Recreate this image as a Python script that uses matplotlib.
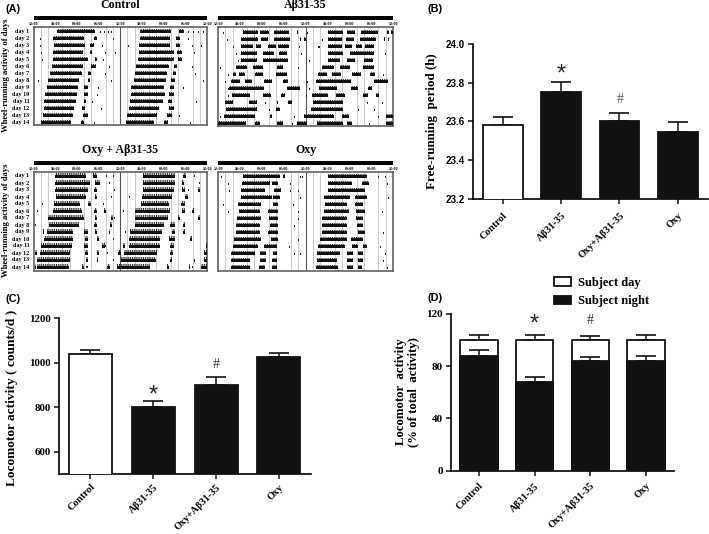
import matplotlib
matplotlib.use("Agg")
import matplotlib.pyplot as plt
from matplotlib.patches import Rectangle

plt.rcParams["hatch.linewidth"] = 0.7

W, H = 709, 534
SERIF = "Liberation Serif"
SANS = "Liberation Sans"
INK = "#111111"

groups = ["Control", "Aβ31-35", "Oxy+Aβ31-35", "Oxy"]
days = [f"day {i}" for i in range(1, 15)]
clock = ["12:00", "18:00", "00:00", "06:00", "12:00", "18:00", "00:00", "06:00", "12:00"]

period = [23.58, 23.75, 23.60, 23.545]
period_top = [23.62, 23.805, 23.645, 23.595]
locomotor = [1038, 800, 900, 1025]
locomotor_top = [1056, 826, 934, 1044]
night_pct = [88, 68, 84, 84]
night_top = [92, 72, 87, 88]
total_pct = [100, 100, 100, 100]
total_top = [104, 104, 103, 104]

# activity bouts per day, hours after the first 12:00 of the double plot
control_bouts = [
    [(6.5, 17), (29.4, 38), (40.2, 41.5)],
    [(5.5, 14), (16.6, 17.5), (29.5, 37.7), (39.4, 40.6)],
    [(5.7, 14.3), (15.7, 16.6), (29.3, 37.9), (39.4, 40.6)],
    [(5.5, 13.8), (15.7, 16.3), (29.1, 39), (39.7, 41.1)],
    [(5.4, 15.2), (17, 17.5), (28.8, 38.8), (39.9, 41.1)],
    [(5, 13.7), (15.9, 17.4), (28.4, 37.4), (38.8, 39.7)],
    [(4.6, 13.4), (15.1, 15.9), (28.2, 36.9), (38.6, 39.5)],
    [(4, 12.5), (15, 15.7), (27.7, 36.7), (38, 39.2)],
    [(3.7, 12.2), (13.9, 15.2), (27.1, 36), (37.7, 38.8)],
    [(3.3, 12), (13.9, 15), (27, 36.5), (37.4, 38.8)],
    [(3, 11.8), (13.9, 14.4), (26.8, 35.7), (37.2, 38.3)],
    [(2.8, 11.3), (13.4, 14.3), (26.3, 34.6), (37.4, 39)],
    [(2.5, 10.9), (13.7, 15), (26, 34.2), (36.8, 38.3)],
    [(2.2, 10.3), (13.1, 14), (25.7, 33.2), (36, 37.2)],
]
abeta_bouts = [
    [(6.9, 11), (11.5, 13.9), (15.4, 19.4), (21.6, 22), (30.1, 34.4), (35.3, 37.6), (39.2, 43.8), (46.3, 46.8), (47.5, 47.9)],
    [(6.2, 11), (11.7, 13.6), (15.4, 19.7), (22.5, 22.9), (23.7, 24), (30.1, 34.1), (35.1, 37.2), (39, 43.3), (45.4, 45.9), (46.5, 47)],
    [(6.2, 9.6), (10.3, 11.9), (13.8, 15.8), (16.5, 19.4), (30.1, 33.9), (34.9, 36.7), (37.8, 39.6), (40.4, 42.9)],
    [(6.2, 10.8), (12.4, 15.4), (16.7, 18.8), (30.1, 34.4), (36.2, 42.9)],
    [(6.2, 10.6), (12.4, 19.3), (30.1, 33.5), (35.3, 37.6), (40.1, 42.4)],
    [(4.8, 8), (9.6, 12.4), (16.2, 17.9), (28.6, 31.9), (33.5, 36.1), (39.7, 42.7)],
    [(4.1, 5), (5.7, 7.3), (10.1, 12.4), (15.8, 18.8), (27.5, 29.8), (31.2, 33.8), (36.7, 39.3), (41.7, 43.1)],
    [(3.7, 6), (7.3, 9.4), (12.7, 14.7), (17.9, 19.3), (26.8, 36.5), (42.9, 46.5)],
    [(2.9, 12.7), (18.8, 22.5), (27.7, 32.6), (36.5, 38.5), (41.1, 42.2)],
    [(3.9, 8.7), (12.4, 14.5), (17.2, 18.3), (25.7, 30.3), (32.3, 34.9), (39.9, 41.1), (43.3, 44.2)],
    [(1.8, 4.1), (8.5, 10.8), (16.1, 16.5), (19.3, 20.4), (26.1, 34.4)],
    [(2.1, 10.7), (15.8, 17), (25.5, 34.4)],
    [(1.7, 10.1), (14.2, 14.9), (23.7, 31.7), (34.1, 35.8), (46.1, 47.9)],
    [(0, 7.8), (10.1, 11.5), (16.3, 17.9), (21.8, 24.3), (27.1, 34.4), (35.3, 36.7), (46, 48)],
]
oxy_abeta_bouts = [
    [(6, 14.6), (16.4, 17.7), (30.3, 39.2), (41.4, 42.3)],
    [(6, 15.5), (17.1, 18.3), (30.3, 39.2), (41.1, 41.6)],
    [(6, 15.2), (16.6, 17.5), (30.3, 38.8), (41.1, 41.8), (45.4, 46.2)],
    [(6.2, 14.6), (16.9, 17.5), (30, 38.3), (41.8, 42.8)],
    [(5.8, 12.9), (15.2, 15.9), (29.7, 37.4), (40.9, 41.8)],
    [(5.5, 13.4), (16.8, 17.7), (19.6, 20.1), (28.2, 37.9), (41.1, 41.8), (43.9, 44.3)],
    [(4, 13.9), (17.1, 17.7), (21.5, 22), (28.2, 37.1), (39.9, 40.6), (45.4, 46)],
    [(4.2, 12.7), (16.8, 17.5), (21.2, 21.8), (28.2, 36), (37.9, 39.2), (41.4, 41.8)],
    [(2.6, 3), (3.7, 10.9), (13.9, 15.2), (17.1, 17.7), (20.8, 21.2), (26.8, 35.5), (38.3, 39.2), (41.4, 41.8)],
    [(2.8, 10.9), (14.3, 15.2), (17.5, 18), (26.3, 35.1), (37.6, 39.2), (43.2, 43.8)],
    [(2, 10.6), (13.9, 15), (18.9, 19.9), (24.7, 25.4), (26.3, 35.1), (37.9, 39), (47.6, 48)],
    [(0.3, 1.1), (1.8, 10.2), (14.3, 15), (17.5, 18.1), (23.5, 24.2), (25.1, 34.2), (37.9, 38.6), (47.3, 48)],
    [(1.1, 10), (14.6, 15), (17.5, 17.9), (24.2, 34), (37.7, 38.2), (44.3, 44.8), (47.1, 48)],
    [(0.3, 0.8), (1.1, 9.7), (13.4, 13.9), (20.3, 21.2), (23.1, 32.3), (36.9, 37.4), (42.9, 43.4), (46.4, 48)],
]
oxy_bouts = [
    [(6.9, 17), (17.9, 18.5), (30.3, 40.8)],
    [(6.6, 14.2), (14.7, 16.5), (30.3, 36.7), (39.4, 41.3)],
    [(6.4, 12.8), (15.4, 17.4), (30.1, 40.4)],
    [(6.4, 14.7), (15.1, 16.9), (29.2, 36.2), (37.6, 40.8)],
    [(5.5, 11.9), (15.1, 16.5), (29.4, 35.3), (37.6, 39.9)],
    [(5.7, 11.5), (13.8, 16.5), (29.1, 35.8), (37.8, 40.2)],
    [(5.3, 11.9), (14, 16.5), (28.6, 35.3), (37.8, 39.9)],
    [(4.8, 11.5), (14.2, 16.5), (28.6, 35.3), (38.1, 39.9)],
    [(4.8, 11.5), (13.8, 16.5), (28.4, 35.3), (38.3, 40.4)],
    [(4.4, 11.9), (14.5, 16.5), (28, 35.3), (36.5, 39.9)],
    [(4.1, 11), (12.6, 16.1), (27.5, 34.9), (36.7, 38.5), (39.9, 40.8)],
    [(3.7, 10.1), (11.5, 13.3), (15.1, 16.1), (27.1, 33.5), (35.3, 36.9), (38.5, 39.9)],
    [(3.5, 8.7), (11.5, 13.3), (14.7, 16.1), (27.1, 32.6), (35.3, 36.9), (38.5, 39.9)],
    [(3.5, 8.7), (11.2, 12.8), (14.7, 16.1), (26.9, 33), (35.3, 36.9), (38.5, 39.6)],
]

# isolated small activity marks: (day, hour)
control_spots = [(1, 18.5), (1, 19.7), (1, 20.8), (1, 21.7), (1, 43), (1, 44.3), (1, 45.7), (1, 46.9),
                 (2, 2), (2, 22), (2, 43), (3, 2), (3, 19), (3, 26.3), (3, 43.9), (3, 46.6),
                 (4, 2.3), (4, 20), (4, 22.6), (4, 44.5), (5, 2.5), (5, 19.5), (6, 21), (6, 44),
                 (7, 19.8), (7, 44.7), (8, 1.3), (8, 21.5), (8, 47), (9, 18), (9, 41.5), (10, 17.6),
                 (11, 16.4), (11, 45), (12, 18.8), (13, 40.5), (14, 16.8), (14, 43.5)]
abeta_spots = [(1, 1.5), (1, 24.5), (2, 2.5), (2, 28.7), (3, 4.3), (3, 27.7), (3, 22.4), (4, 5.2), (4, 23),
               (4, 46), (5, 5.5), (5, 25), (6, 0.8), (6, 22), (7, 2.8), (7, 45.5), (8, 2), (8, 24.6), (9, 3),
               (9, 25.2), (10, 2.8), (10, 24.3), (11, 13), (11, 41), (11, 45), (12, 14), (12, 38.5), (12, 42.8),
               (13, 0.6), (13, 21), (13, 44), (14, 20.5), (14, 41.5)]
oxy_abeta_spots = [(1, 20.3), (1, 22), (1, 44.5), (2, 21), (2, 46), (3, 22.5), (3, 43), (4, 26.5), (4, 21.5),
                   (5, 2.5), (5, 19.5), (6, 1), (6, 25), (7, 22.5), (8, 0.5), (9, 25.5), (10, 22),
                   (11, 20), (12, 20.5), (13, 22), (14, 14.8), (14, 44)]
oxy_spots = [(1, 1), (1, 22.5), (1, 23.2), (1, 44), (1, 46), (2, 2.8), (2, 20), (2, 46.5), (3, 3.2), (3, 20),
             (3, 22), (4, 22.5), (4, 46.8), (5, 1.5), (5, 20.6), (6, 3), (6, 22), (6, 45), (7, 22), (8, 21),
             (9, 45.5), (10, 22), (11, 19.5), (11, 44.5), (12, 21), (12, 22.5), (12, 46), (13, 45.5), (14, 46.5)]


def place(x0, y0, x1, y1):
    return fig.add_axes([x0 / W, 1 - y1 / H, (x1 - x0) / W, (y1 - y0) / H])


def actogram(box, title, title_y, bouts, spots, row1):
    x0, y0, x1, y1 = box
    ax = place(x0, y0, x1, y1)
    step = 7.0
    ax.set_xlim(0, 48)
    ax.set_ylim(1 + (y1 - row1) / step, 1 - (row1 - y0) / step)
    ax.set_xticks(range(0, 49, 2), minor=True)
    ax.grid(which="minor", axis="x", color="#bdbdbd", lw=0.55, zorder=0)
    ax.set_axisbelow(True)
    ax.axvline(24, color="#555555", lw=0.8, zorder=1)
    for i, row in enumerate(bouts, start=1):
        spans = [(a, b - a) for a, b in row]
        ax.broken_barh(spans, (i - 0.14, 0.44), facecolor=INK, edgecolor="none", zorder=3)
        ax.broken_barh(spans, (i - 0.34, 0.22), facecolor="none", edgecolor="#222222",
                       hatch="|||||||||", linewidth=0, zorder=3)
    for d, h in spots:
        ax.broken_barh([(h - 0.14, 0.28)], (d - 0.02, 0.3), facecolor="#222222", edgecolor="none", zorder=3)
    ax.set_xticks(range(0, 49, 6))
    ax.set_xticklabels(clock, family=SERIF, weight="bold", fontsize=3)
    ax.xaxis.tick_top()
    ax.tick_params(axis="x", which="both", length=0, pad=0.8)
    ax.tick_params(axis="y", length=0, pad=3)
    if x0 < 100:
        ax.set_yticks(range(1, 15))
        ax.set_yticklabels(days, family=SERIF, weight="bold", fontsize=4.4)
    else:
        ax.set_yticks([])
    for s in ax.spines.values():
        s.set_color("#555555")
        s.set_linewidth(1.1)
    ax.add_patch(Rectangle((0, 1 + 7 / (y1 - y0)), 48, 4.2 / (y1 - y0), transform=ax.get_xaxis_transform(),
                           clip_on=False, facecolor="black", edgecolor="none"))
    fig.text((x0 + x1) / 2 / W, 1 - title_y / H, title, family=SERIF, weight="bold", fontsize=8.6,
             ha="center", va="center")
    return ax


def axes_style(ax, ytick_family, ytick_size, xpad=5):
    ax.spines["top"].set_visible(False)
    ax.spines["right"].set_visible(False)
    ax.spines["left"].set_linewidth(1.2)
    ax.spines["bottom"].set_linewidth(1.2)
    ax.tick_params(axis="both", width=1.1, length=3.6, color=INK)
    ax.tick_params(axis="y", pad=2)
    ax.tick_params(axis="x", pad=xpad)
    ax.set_xticks(range(4))
    ax.set_xticklabels(groups, family=SERIF, weight="bold", fontsize=7.3, rotation=45, ha="right",
                       rotation_mode="anchor")
    for t in ax.get_yticklabels():
        t.set_family(ytick_family)
        t.set_weight("bold")
        t.set_fontsize(ytick_size)


def top_error(ax, xs, values, tops, z=2):
    ax.errorbar(xs, values, yerr=[[0] * 4, [t - v for t, v in zip(tops, values)]], fmt="none",
                ecolor=INK, elinewidth=1.1, capsize=7, capthick=1.2, zorder=z)


def mark(ax, x, y, s, size):
    ax.text(x, y, s, family=SANS, fontsize=size, ha="center", va="center", color="#222222")


fig = plt.figure(figsize=(W / 100, H / 100), dpi=100)
fig.patch.set_facecolor("white")

actogram((33.5, 27, 207, 125), "Control", 5, control_bouts, control_spots, 31)
actogram((218, 27, 393, 126), "Aβ31-35", 5, abeta_bouts, abeta_spots, 32)
actogram((33.5, 172, 207, 271), "Oxy + Aβ31-35", 150, oxy_abeta_bouts, oxy_abeta_spots, 175.5)
actogram((218, 172, 393, 271), "Oxy", 150, oxy_bouts, oxy_spots, 176)

for ytxt in (75, 220):
    fig.text(6 / W, 1 - ytxt / H, "Wheel-running activity of days", family=SERIF, weight="bold", fontsize=6.2,
             rotation=90, ha="center", va="center")
for txt, px, py in (("(A)", 13, 9), ("(B)", 435, 9), ("(C)", 13, 299), ("(D)", 435, 298)):
    fig.text(px / W, 1 - py / H, txt, family=SANS, weight="bold", fontsize=7.8, ha="center", va="center")

colors = ["white", INK, INK, INK]
xs = list(range(4))

# (B)
axb = place(473, 43.7, 708, 199)
axb.bar(xs, period, width=0.68, color=colors, edgecolor=INK, linewidth=1.3, zorder=3)
top_error(axb, xs, period, period_top)
axb.set_xlim(-0.515, 3.52)
axb.set_ylim(23.2, 24.0)
axb.set_yticks([23.2, 23.4, 23.6, 23.8, 24.0])
axb.set_yticklabels(["23.2", "23.4", "23.6", "23.8", "24.0"])
axes_style(axb, SANS, 7)
fig.text(432 / W, 1 - 120.7 / H, "Free-running  period (h)", family=SERIF, weight="bold", fontsize=9.4,
         rotation=90, ha="center", va="center")
mark(axb, 1, 23.84, "*", 17)
fig.text(620.5 / W, 1 - 99.5 / H, "#", family=SERIF, fontsize=10, ha="center", va="center", color="#555555")

# (C)
axc = place(59, 318.3, 311, 474)
axc.bar(xs, locomotor, width=0.685, color=colors, edgecolor=INK, linewidth=1.3, zorder=3)
top_error(axc, xs, locomotor, locomotor_top)
axc.set_xlim(-0.5, 3.51)
axc.set_ylim(500, 1200)
axc.set_yticks([600, 800, 1000, 1200])
axc.set_yticklabels(["600", "800", "1000", "1200"])
axes_style(axc, SERIF, 7.8, xpad=2.5)
fig.text(12 / W, 1 - 398 / H, "Locomotor activity ( counts/d )", family=SERIF, weight="bold", fontsize=9.6,
         rotation=90, ha="center", va="center")
mark(axc, 1, 855, "*", 17)
fig.text(216.5 / W, 1 - 365 / H, "#", family=SERIF, fontsize=10, ha="center", va="center", color="#333333")

# (D)
axd = place(451, 313.7, 674, 470.7)
day_bar = axd.bar(xs, total_pct, width=0.677, color="white", edgecolor=INK, linewidth=1.3, zorder=3,
                  label="Subject day")
night_bar = axd.bar(xs, night_pct, width=0.677, color=INK, edgecolor=INK, linewidth=1.3, zorder=4,
                    label="Subject night")
top_error(axd, xs, total_pct, total_top)
top_error(axd, xs, night_pct, night_top, z=5)
axd.set_xlim(-0.5, 3.5)
axd.set_ylim(0, 120)
axd.set_yticks([0, 40, 80, 120])
axd.set_yticklabels(["0", "40", "80", "120"])
axes_style(axd, SERIF, 8, xpad=4)
fig.text(407.5 / W, 1 - 392 / H, "Locomotor  activity\n(% of total  activity)", family=SERIF, weight="bold",
         fontsize=9.2, rotation=90, ha="center", va="center", linespacing=1.05)
mark(axd, 1, 112, "*", 17)
fig.text(590.5 / W, 1 - 320 / H, "#", family=SERIF, fontsize=10, ha="center", va="center", color="#333333")
fig.legend(handles=[day_bar, night_bar], labels=["Subject day", "Subject night"], frameon=False,
           loc="upper left", bbox_to_anchor=(554 / W, 1 - 277 / H), borderpad=0, borderaxespad=0,
           prop={"family": SERIF, "weight": "bold", "size": 9}, handlelength=1.35, handleheight=0.7,
           handletextpad=0.55, labelspacing=0.5)

fig.savefig("out.png", dpi=100, facecolor="white")
